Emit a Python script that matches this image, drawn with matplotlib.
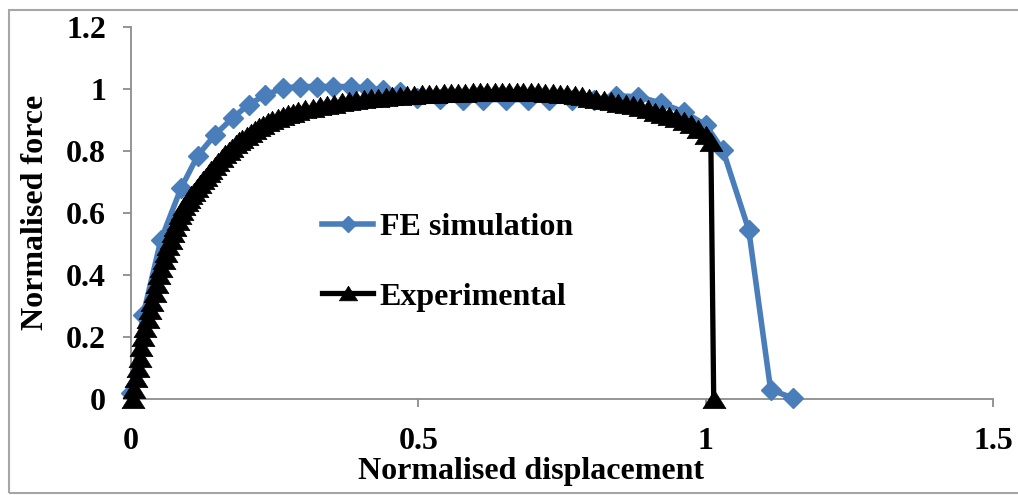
import matplotlib
matplotlib.use("Agg")
import matplotlib.pyplot as plt
from matplotlib.patches import Rectangle

# ---------------- data ----------------
fe_x = [0.0, 0.021, 0.052, 0.087, 0.116, 0.146, 0.177, 0.205, 0.234, 0.265,
        0.294, 0.324, 0.352, 0.382, 0.411, 0.439, 0.468, 0.498, 0.538, 0.577,
        0.613, 0.652, 0.690, 0.728, 0.767, 0.805, 0.844, 0.883, 0.922, 0.962,
        1.000, 1.030, 1.075, 1.113, 1.152]
fe_y = [0.02, 0.27, 0.513, 0.680, 0.785, 0.852, 0.907, 0.950, 0.981, 1.003,
        1.008, 1.008, 1.008, 1.008, 1.003, 0.997, 0.99, 0.972, 0.968, 0.966,
        0.966, 0.966, 0.966, 0.966, 0.966, 0.965, 0.978, 0.975, 0.955, 0.926,
        0.884, 0.803, 0.545, 0.030, 0.003]

exp_x = [0.003, 0.006, 0.009, 0.012, 0.015, 0.018, 0.021, 0.025, 0.029, 0.033,
         0.037, 0.041, 0.045, 0.049, 0.053, 0.057, 0.061, 0.065, 0.069, 0.073,
         0.077, 0.081, 0.085, 0.089, 0.093, 0.097, 0.101, 0.105, 0.110, 0.115,
         0.120, 0.125, 0.130, 0.135, 0.140, 0.146, 0.152, 0.158, 0.164, 0.170,
         0.176, 0.182, 0.188, 0.194, 0.201, 0.208, 0.215, 0.222, 0.230, 0.238,
         0.246, 0.255, 0.264, 0.273, 0.282, 0.291, 0.303, 0.316, 0.329, 0.341,
         0.354, 0.367, 0.379, 0.392, 0.405, 0.417, 0.430, 0.443, 0.455, 0.468,
         0.481, 0.493, 0.506, 0.519, 0.531, 0.544, 0.557, 0.569, 0.582, 0.595,
         0.607, 0.620, 0.633, 0.645, 0.658, 0.671, 0.683, 0.696, 0.709, 0.721,
         0.734, 0.747, 0.759, 0.772, 0.785, 0.797, 0.810, 0.823, 0.835, 0.848,
         0.861, 0.873, 0.886, 0.899, 0.911, 0.924, 0.937, 0.949, 0.962, 0.975,
         0.987, 1.000, 1.009, 1.014]
exp_y = [0.000, 0.033, 0.067, 0.100, 0.133, 0.167, 0.200, 0.229, 0.257, 0.286,
         0.314, 0.343, 0.371, 0.400, 0.424, 0.447, 0.470, 0.492, 0.514, 0.536,
         0.556, 0.575, 0.592, 0.607, 0.621, 0.634, 0.646, 0.657, 0.669, 0.681,
         0.693, 0.705, 0.717, 0.728, 0.739, 0.752, 0.765, 0.777, 0.789, 0.800,
         0.811, 0.821, 0.831, 0.840, 0.850, 0.859, 0.868, 0.876, 0.884, 0.892,
         0.899, 0.906, 0.912, 0.918, 0.923, 0.928, 0.934, 0.939, 0.944, 0.949,
         0.953, 0.957, 0.961, 0.964, 0.967, 0.970, 0.972, 0.974, 0.976, 0.978,
         0.980, 0.981, 0.983, 0.984, 0.985, 0.986, 0.987, 0.988, 0.988, 0.989,
         0.989, 0.990, 0.990, 0.990, 0.990, 0.990, 0.990, 0.990, 0.989, 0.988,
         0.987, 0.985, 0.983, 0.980, 0.976, 0.972, 0.968, 0.964, 0.960, 0.956,
         0.952, 0.947, 0.941, 0.934, 0.927, 0.920, 0.913, 0.905, 0.896, 0.886,
         0.872, 0.853, 0.830, 0.000]

x_ticks = [0, 0.5, 1, 1.5]
x_tick_labels = ["0", "0.5", "1", "1.5"]
y_ticks = [0, 0.2, 0.4, 0.6, 0.8, 1, 1.2]
y_tick_labels = ["0", "0.2", "0.4", "0.6", "0.8", "1", "1.2"]

series_names = ["FE simulation", "Experimental"]
x_label = "Normalised displacement"
y_label = "Normalised force"

# ---------------- figure ----------------
W, H = 1018, 495
fig = plt.figure(figsize=(W / 100, H / 100), dpi=100)
fig.patch.set_facecolor("white")

# outer chart border
fig.patches.append(Rectangle((9 / W, 2 / H), 1.2, (H - 12) / H, transform=fig.transFigure,
                             fill=False, edgecolor="#a6a6a6", linewidth=1.5))

ax = fig.add_axes([131 / W, 1 - 399 / H, (993 - 131) / W, (399 - 27) / H])
ax.set_xlim(0, 1.5)
ax.set_ylim(0, 1.2)

FS = 23
font = dict(family="Liberation Serif", weight="bold", size=FS)

blue = "#4a7ebb"
wide_tri = [(0, 0.8), (-1, -0.8), (1, -0.8), (0, 0.8)]
ax.plot(fe_x, fe_y, color=blue, lw=4, marker="D", ms=10.5, mfc=blue, mec=blue,
        label=series_names[0], clip_on=False, zorder=3)
ax.plot(exp_x, exp_y, color="black", lw=3.8, marker=wide_tri, ms=16.5, mfc="black", mec="black",
        mew=0.5, label=series_names[1], clip_on=False, zorder=4)

for s in ["top", "right"]:
    ax.spines[s].set_visible(False)
for s in ["left", "bottom"]:
    ax.spines[s].set_color("#8c8c8c")
    ax.spines[s].set_linewidth(1.3)

ax.set_xticks(x_ticks)
ax.set_xticklabels(x_tick_labels)
ax.set_yticks(y_ticks)
ax.set_yticklabels(y_tick_labels)
ax.tick_params(axis="both", direction="out", length=6, width=1.3, color="#8c8c8c")
ax.tick_params(axis="x", pad=14)
ax.tick_params(axis="y", pad=12)
for lab in ax.get_xticklabels() + ax.get_yticklabels():
    lab.set_fontfamily("Liberation Serif")
    lab.set_fontweight("bold")
    lab.set_fontsize(FS)

fig.text(531 / W, 1 - 471 / H, x_label, ha="center", va="center", **font)
fig.text(36 / W, 1 - 212 / H, y_label, ha="center", va="center", rotation=90, **font)

leg = ax.legend(loc="upper left", bbox_to_anchor=(322 / W, 1 - 213 / H),
                bbox_transform=fig.transFigure, frameon=False, handlelength=1.6,
                handletextpad=0.2, labelspacing=1.25, borderpad=0, borderaxespad=0,
                markerscale=0.8,
                prop=dict(family="Liberation Serif", weight="bold", size=FS))

fig.savefig("out.png", dpi=100, facecolor="white")
